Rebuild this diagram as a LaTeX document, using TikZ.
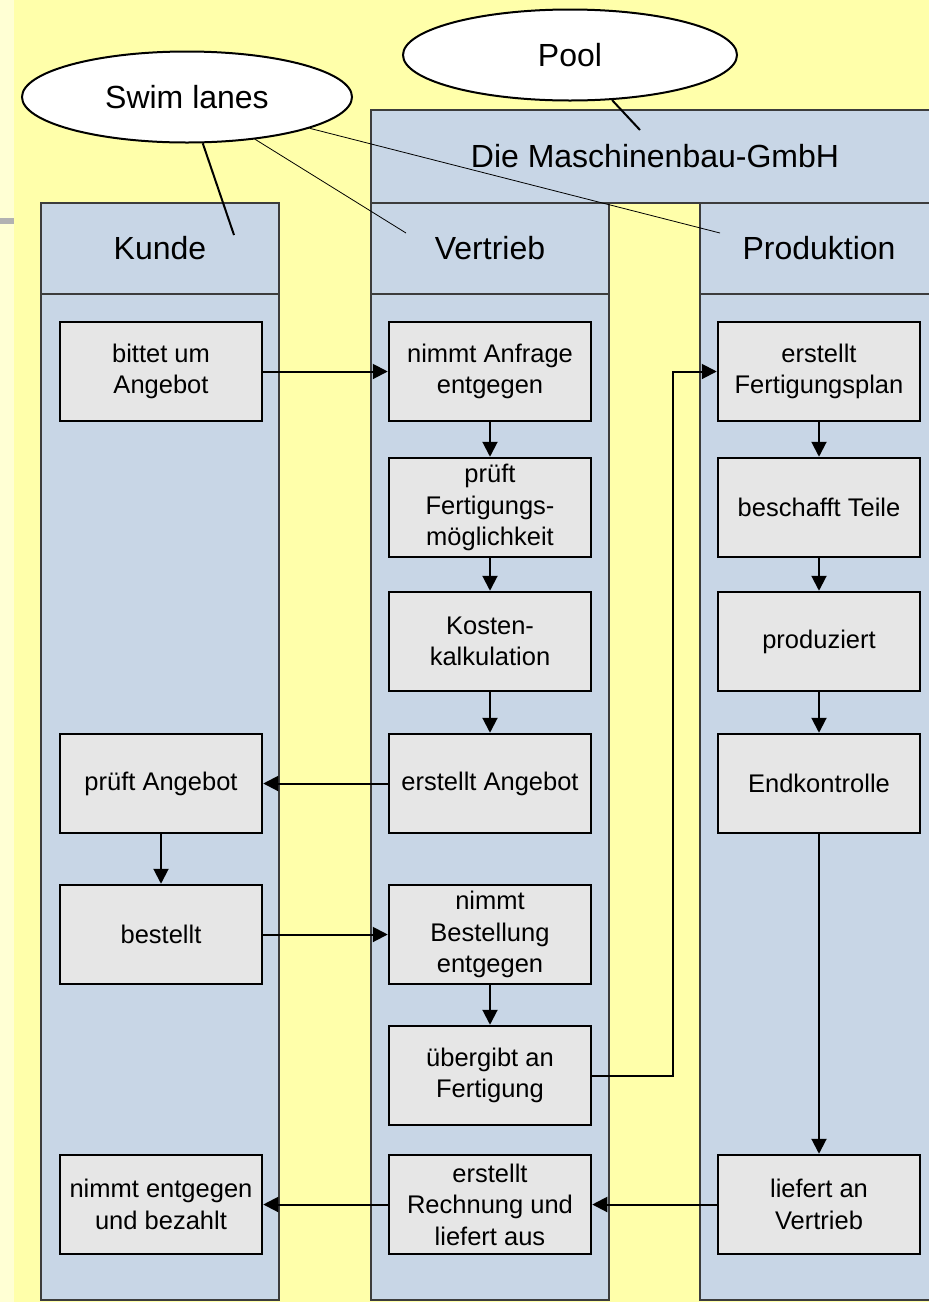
\documentclass[tikz,border=0pt]{standalone}
\usepackage{fontspec}
\setmainfont{Liberation Sans}
\usetikzlibrary{arrows.meta,shapes.geometric}

\definecolor{pageyellow}{HTML}{FFFFAA}
\definecolor{stripyellow}{HTML}{FFFFD4}
\definecolor{laneblue}{HTML}{C8D6E6}
\definecolor{boxgray}{HTML}{E6E6E6}
\definecolor{lanegray}{HTML}{3C3C3C}

\tikzset{
  lane/.style={draw=lanegray,fill=laneblue,line width=1.5pt},
  head/.style={font=\fontsize{32}{38}\selectfont},
  task/.style={draw=black,fill=boxgray,line width=2.5pt,minimum width=202pt,
    minimum height=99pt,align=center,inner sep=2pt,font=\fontsize{25.5}{31.5}\selectfont},
  note/.style={ellipse,draw=black,fill=white,line width=2pt,minimum width=330pt,
    minimum height=91pt,font=\fontsize{32}{38}\selectfont},
  flow/.style={line width=2pt,-{Triangle[length=15pt,width=15pt]}}
}

\begin{document}
\begin{tikzpicture}[x=1pt,y=-1pt]
        \useasboundingbox (0,0) rectangle (929,1302);
        % Background
        \fill[pageyellow] (0,0) rectangle (929,1302);
        \fill[stripyellow] (0,0) rectangle (14,1302);
        \fill[black!30] (0,218) rectangle (14,224);

        % Pool and lanes
        \draw[lane] (371,110) rectangle (945,203);
        \draw[lane] (41,203) rectangle (279,1300);
        \draw[lane] (371,203) rectangle (609,1300);
        \draw[lane] (700,203) rectangle (945,1300);
        \draw[lanegray,line width=1.5pt] (41,294) -- (279,294);
        \draw[lanegray,line width=1.5pt] (371,294) -- (609,294);
        \draw[lanegray,line width=1.5pt] (700,294) -- (945,294);

        \node[head] (pool) at (655,156) {Die Maschinenbau-GmbH};
        \node[head] (kunde) at (160,248) {Kunde};
        \node[head] (vertrieb) at (490,248) {Vertrieb};
        \node[head] (produktion) at (819,248) {Produktion};

        % Kunde
        \node[task] (bittet) at (161,371.5) {bittet um\\Angebot};
        \node[task] (prueftA) at (161,783.5) {prüft Angebot};
        \node[task] (bestellt) at (161,934.5) {bestellt};
        \node[task] (bezahlt) at (161,1204.5) {nimmt entgegen\\und bezahlt};

        % Vertrieb
        \node[task] (anfrage) at (490,371.5) {nimmt Anfrage\\entgegen};
        \node[task] (prueftF) at (490,507.5) {prüft\\Fertigungs-\\möglichkeit};
        \node[task] (kosten) at (490,641.5) {Kosten-\\kalkulation};
        \node[task] (angebot) at (490,783.5) {erstellt Angebot};
        \node[task] (bestellung) at (490,934.5) {nimmt\\Bestellung\\entgegen};
        \node[task] (uebergibt) at (490,1075.5) {übergibt an\\Fertigung};
        \node[task] (rechnung) at (490,1204.5) {erstellt\\Rechnung und\\liefert aus};

        % Produktion
        \node[task] (plan) at (819,371.5) {erstellt\\Fertigungsplan};
        \node[task] (teile) at (819,507.5) {beschafft Teile};
        \node[task] (produziert) at (819,641.5) {produziert};
        \node[task] (endkontrolle) at (819,783.5) {Endkontrolle};
        \node[task] (liefert) at (819,1204.5) {liefert an\\Vertrieb};

        % Flow
        \draw[flow] (bittet) -- (anfrage);
        \draw[flow] (anfrage) -- (prueftF);
        \draw[flow] (prueftF) -- (kosten);
        \draw[flow] (kosten) -- (angebot);
        \draw[flow] (angebot) -- (prueftA);
        \draw[flow] (prueftA) -- (bestellt);
        \draw[flow] (bestellt) -- (bestellung);
        \draw[flow] (bestellung) -- (uebergibt);
        \draw[flow] (uebergibt.east) -- ++(81,0) |- (plan.west);
        \draw[flow] (plan) -- (teile);
        \draw[flow] (teile) -- (produziert);
        \draw[flow] (produziert) -- (endkontrolle);
        \draw[flow] (endkontrolle) -- (liefert);
        \draw[flow] (liefert) -- (rechnung);
        \draw[flow] (rechnung) -- (bezahlt);

        % Callouts
        \node[note] (swim) at (187,97) {Swim lanes};
        \node[note,minimum width=334pt] (poolnote) at (570,55) {Pool};
        \coordinate (kundetip) at (234,235);
        \coordinate (vertriebtip) at (406,233);
        \coordinate (produktiontip) at (720,233);
        \coordinate (pooltip) at (640,130);
        \draw[line width=2pt] (swim) -- (kundetip);
        \draw[line width=0.8pt] (swim) -- (vertriebtip);
        \draw[line width=0.8pt] (swim) -- (produktiontip);
        \draw[line width=2pt] (poolnote) -- (pooltip);
    \end{tikzpicture}
\end{document}
